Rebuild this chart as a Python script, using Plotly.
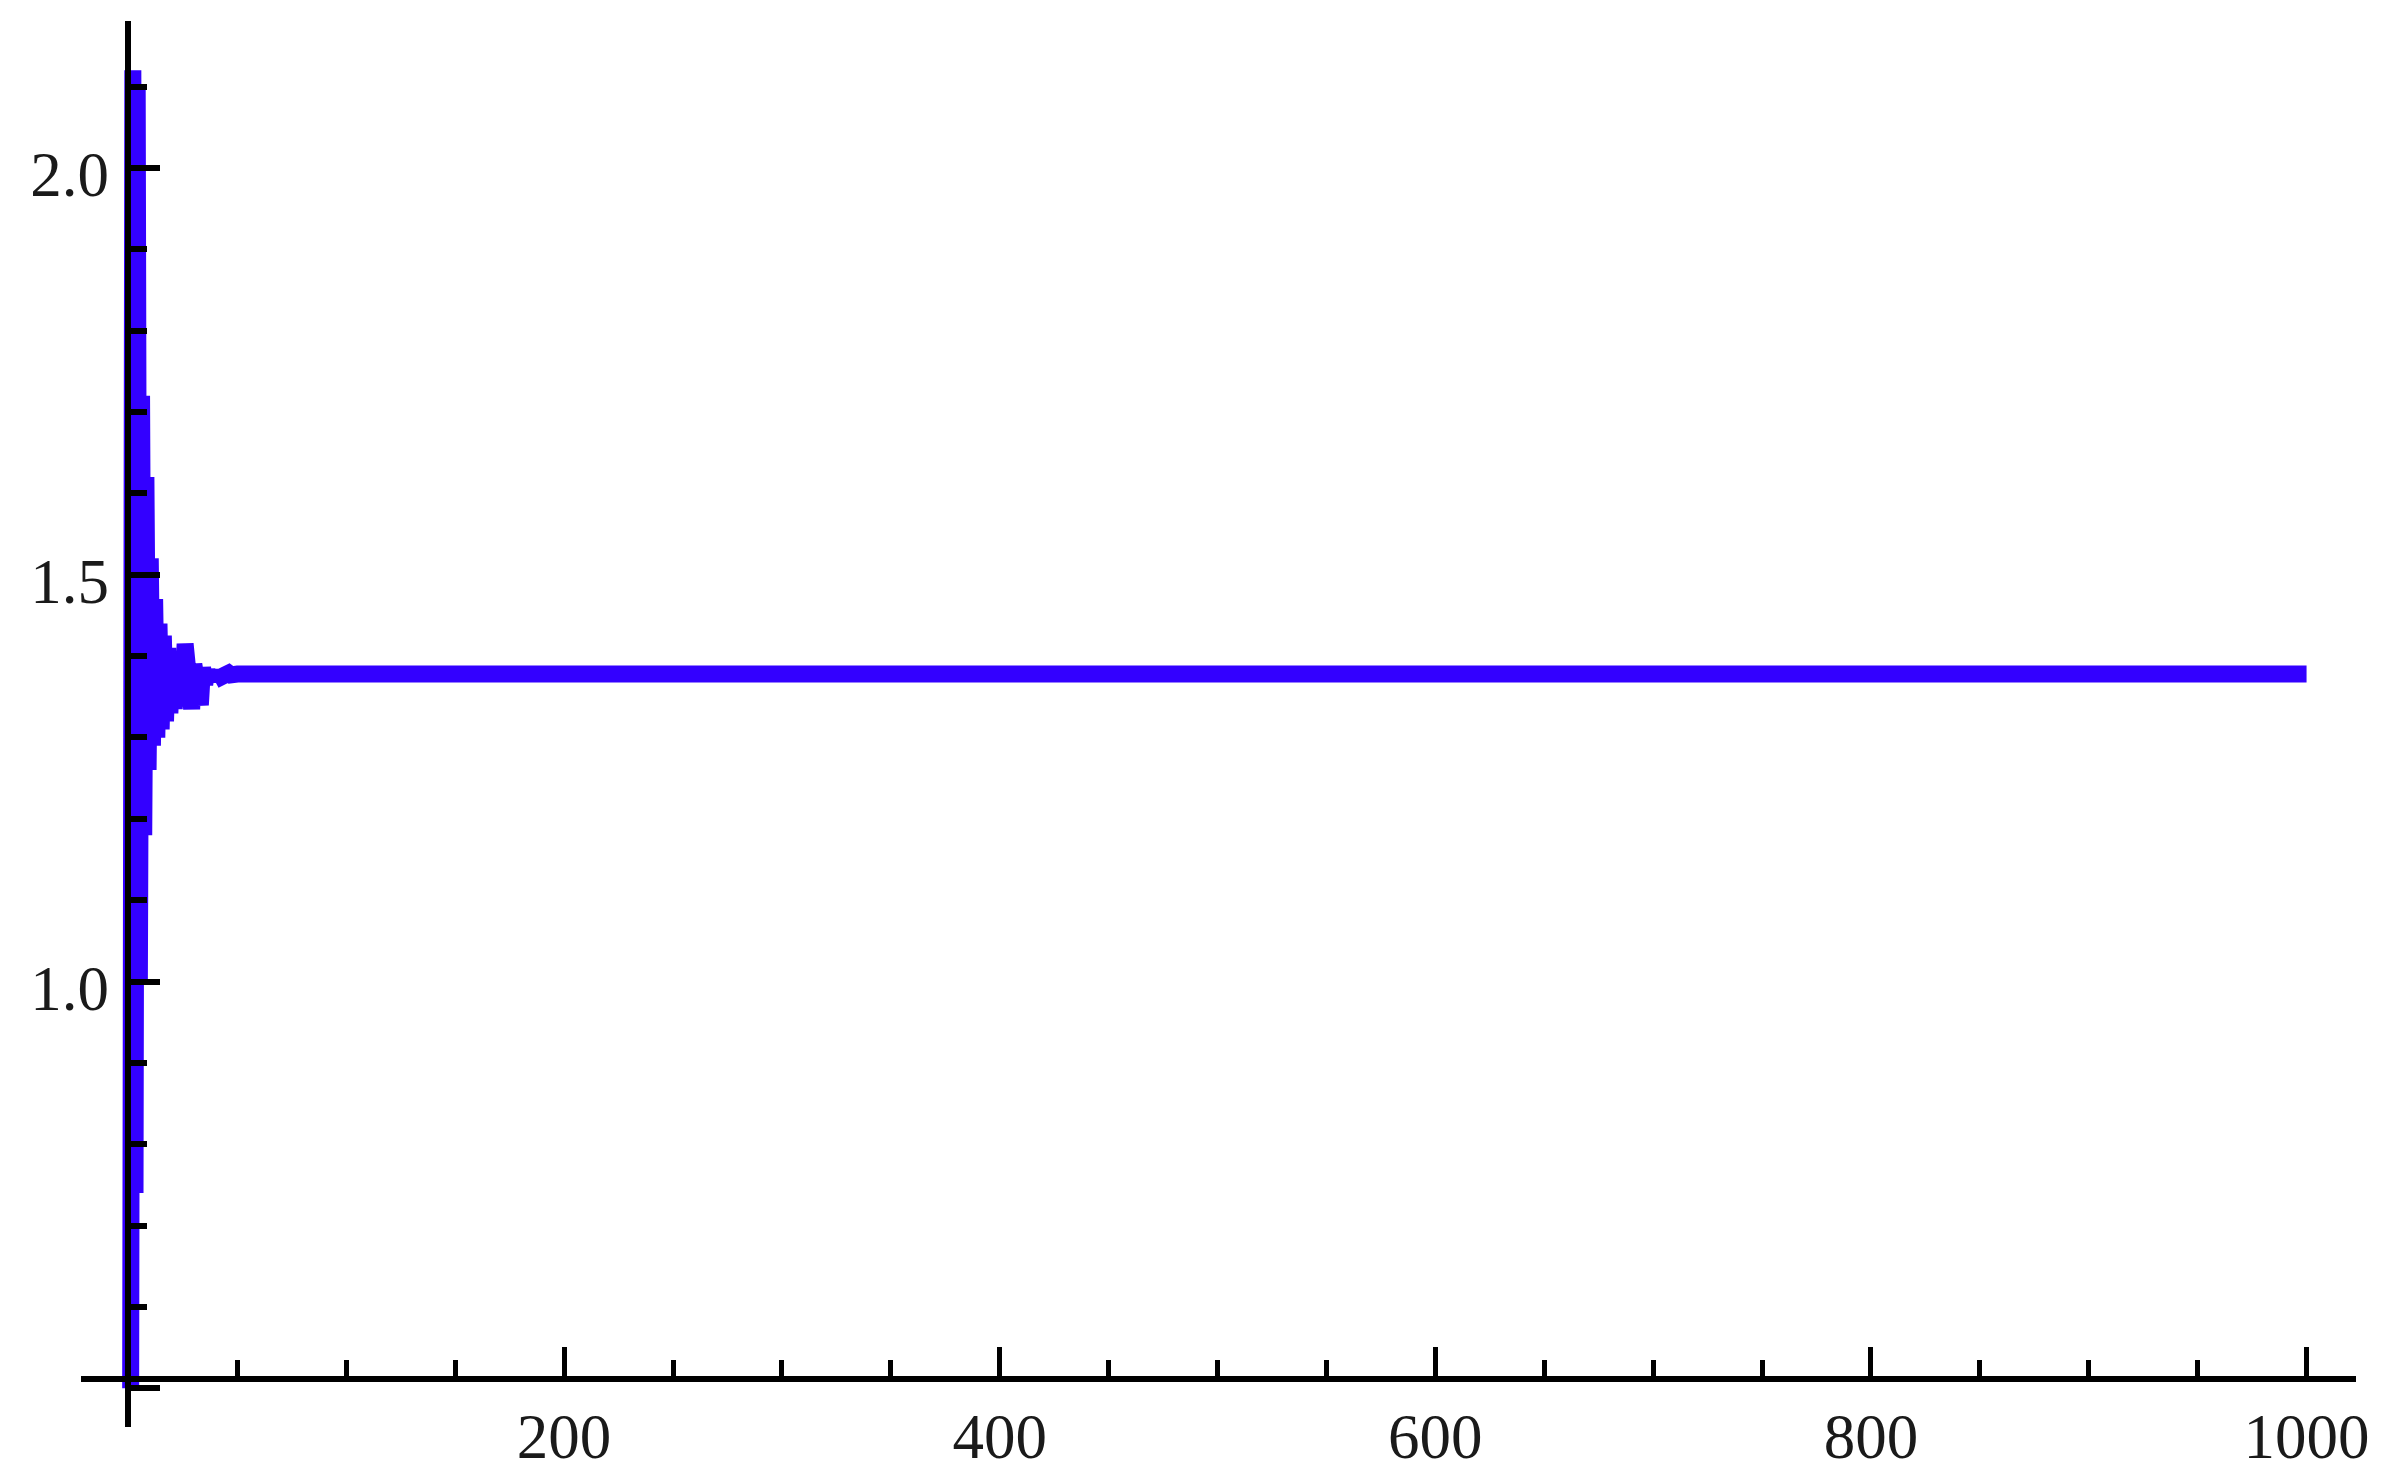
import plotly.graph_objects as go

# ---- data ----
STEP_N = [1, 2, 3, 4, 5, 6, 7, 8, 9, 10,
          11, 12, 13, 14, 15, 16, 17, 18, 19, 20,
          21, 22, 23, 24, 25, 26, 27, 28, 29, 30,
          31, 32, 33, 34, 35, 36, 37, 38, 39, 40,
          41, 42, 43, 44, 45, 46, 47, 48, 49, 50,
          1000]
VALUES = [0.50, 2.12, 0.74, 2.10, 1.00, 1.72, 1.18, 1.62, 1.26, 1.52,
          1.29, 1.47, 1.30, 1.44, 1.31, 1.425, 1.32, 1.41, 1.33, 1.40,
          1.335, 1.395, 1.34, 1.40, 1.345, 1.415, 1.35, 1.39, 1.335, 1.39,
          1.36, 1.385, 1.34, 1.386, 1.365, 1.383, 1.369, 1.382, 1.372, 1.381,
          1.374, 1.380, 1.375, 1.380, 1.376, 1.379, 1.377, 1.379, 1.377, 1.378,
          1.378]

X_MAJOR = [200, 400, 600, 800, 1000]
X_MAJOR_TEXT = ["200", "400", "600", "800", "1000"]
X_MINOR = [0, 50, 100, 150, 250, 300, 350, 450, 500, 550, 650, 700, 750,
           850, 900, 950]
Y_MAJOR = [0.5, 1.0, 1.5, 2.0]
Y_MAJOR_TEXT = ["", "1.0", "1.5", "2.0"]
Y_MINOR = [0.6, 0.7, 0.8, 0.9, 1.1, 1.2, 1.3, 1.4, 1.6, 1.7, 1.8, 1.9, 2.1]

X_RANGE = [-21.8, 1022.7]
Y_RANGE = [0.4525, 2.1806]
X_ORIGIN = 0.0
Y_ORIGIN = 0.5116

LINE_COLOR = "#3300ff"
TEXT_COLOR = "#1a1a1a"

fig = go.Figure()
fig.add_trace(go.Scatter(
    x=STEP_N, y=VALUES, mode="lines",
    line=dict(color=LINE_COLOR, width=17),
    hoverinfo="skip", showlegend=False,
))

xpos = (X_ORIGIN - X_RANGE[0]) / (X_RANGE[1] - X_RANGE[0])
ypos = (Y_ORIGIN - Y_RANGE[0]) / (Y_RANGE[1] - Y_RANGE[0])

# the page body adds an 8px offset, so the figure is 8px smaller
fig.update_layout(
    width=2374, height=1476,
    margin=dict(l=73, r=26, t=13, b=57, pad=0),
    paper_bgcolor="white", plot_bgcolor="white",
    font=dict(family="Liberation Serif", size=63, color=TEXT_COLOR),
    xaxis=dict(
        range=X_RANGE, anchor="free", position=ypos, side="bottom",
        showgrid=False, zeroline=False, automargin=False,
        showline=True, linecolor="black", linewidth=6,
        tickmode="array", tickvals=X_MAJOR, ticktext=X_MAJOR_TEXT,
        ticks="inside", ticklen=29, tickwidth=5, tickcolor="black",
        minor=dict(tickmode="array", tickvals=X_MINOR, ticks="inside",
                   ticklen=16, tickwidth=5, tickcolor="black", showgrid=False),
        ticklabelstandoff=0,
    ),
    yaxis=dict(
        range=Y_RANGE, anchor="free", position=xpos, side="left",
        showgrid=False, zeroline=False, automargin=False,
        showline=True, linecolor="black", linewidth=6,
        tickmode="array", tickvals=Y_MAJOR, ticktext=Y_MAJOR_TEXT,
        ticks="inside", ticklen=29, tickwidth=6, tickcolor="black",
        minor=dict(tickmode="array", tickvals=Y_MINOR, ticks="inside",
                   ticklen=16, tickwidth=6, tickcolor="black", showgrid=False),
        ticklabelstandoff=4, ticklabelshift=6,
    ),
)

fig.write_html("out.html")
